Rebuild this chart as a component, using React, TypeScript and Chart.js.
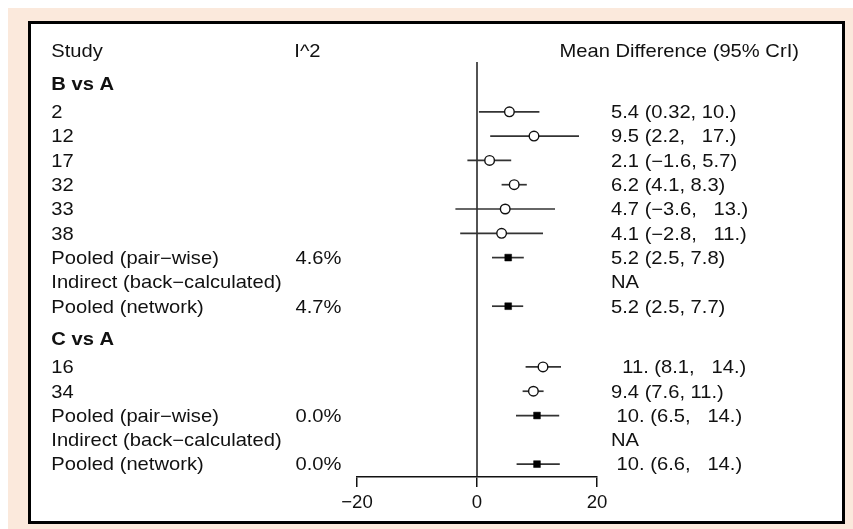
import React, { useEffect, useRef } from "react";
import { Chart, registerables } from "chart.js";

Chart.register(...registerables);

// ---------- data ----------
const groupTitles = ["B vs A", "C vs A"];

const labelsB = ["2", "12", "17", "32", "33", "38", "Pooled (pair\u2212wise)", "Indirect (back\u2212calculated)", "Pooled (network)"];
const kindsB = ["study", "study", "study", "study", "study", "study", "pooled", "none", "pooled"];
const meanB = [5.4, 9.5, 2.1, 6.2, 4.7, 4.1, 5.2, null, 5.2];
const lowerB = [0.32, 2.2, -1.6, 4.1, -3.6, -2.8, 2.5, null, 2.5];
const upperB = [10.4, 17, 5.7, 8.3, 13, 11, 7.8, null, 7.7];
const i2B = ["", "", "", "", "", "", "4.6%", "", "4.7%"];
const ciTextB = [
  "5.4 (0.32, 10.)",
  "9.5 (2.2,   17.)",
  "2.1 (\u22121.6, 5.7)",
  "6.2 (4.1, 8.3)",
  "4.7 (\u22123.6,   13.)",
  "4.1 (\u22122.8,   11.)",
  "5.2 (2.5, 7.8)",
  "NA",
  "5.2 (2.5, 7.7)",
];

const labelsC = ["16", "34", "Pooled (pair\u2212wise)", "Indirect (back\u2212calculated)", "Pooled (network)"];
const kindsC = ["study", "study", "pooled", "none", "pooled"];
const meanC = [11, 9.4, 10, null, 10];
const lowerC = [8.1, 7.6, 6.5, null, 6.6];
const upperC = [14, 11.1, 13.7, null, 13.8];
const i2C = ["", "", "0.0%", "", "0.0%"];
const ciTextC = [
  "  11. (8.1,   14.)",
  "9.4 (7.6, 11.)",
  " 10. (6.5,   14.)",
  "NA",
  " 10. (6.6,   14.)",
];

const headerStudy = "Study";
const headerI2 = "I^2";
const headerEffect = "Mean Difference (95% CrI)";
const xTicks = [-20, 0, 20];

// ---------- layout helpers ----------
const FONT_FAMILY = "'Liberation Sans', Arial, sans-serif";
const FONT_SIZE = 17.7;
const STRETCH = 1.14;
const TEXT_COLOR = "#111111";

type Row = {
  y: number;
  label: string;
  bold?: boolean;
  i2?: string;
  ci?: string;
  kind?: string;
  mean?: number | null;
  lo?: number | null;
  hi?: number | null;
};

function buildRows(): Row[] {
  const rows: Row[] = [];
  const groups = [
    { title: groupTitles[0], labels: labelsB, kinds: kindsB, mean: meanB, lo: lowerB, hi: upperB, i2: i2B, ci: ciTextB },
    { title: groupTitles[1], labels: labelsC, kinds: kindsC, mean: meanC, lo: lowerC, hi: upperC, i2: i2C, ci: ciTextC },
  ];
  let y = 0;
  groups.forEach((g) => {
    y += 1.35;
    rows.push({ y, label: g.title, bold: true });
    y += 1.15;
    g.labels.forEach((lab, i) => {
      rows.push({ y, label: lab, i2: g.i2[i], ci: g.ci[i], kind: g.kinds[i], mean: g.mean[i], lo: g.lo[i], hi: g.hi[i] });
      y += 1;
    });
    y -= 1;
  });
  return rows;
}

function drawStretched(ctx: CanvasRenderingContext2D, text: string, x: number, yMid: number, bold = false) {
  ctx.save();
  ctx.font = `${bold ? "bold " : ""}${FONT_SIZE}px ${FONT_FAMILY}`;
  ctx.fillStyle = TEXT_COLOR;
  ctx.textBaseline = "alphabetic";
  ctx.textAlign = "left";
  ctx.translate(x, yMid + 0.36 * FONT_SIZE);
  ctx.scale(STRETCH, 1);
  ctx.fillText(text, 0, 0);
  ctx.restore();
}

export default function App() {
  const canvasRef = useRef<HTMLCanvasElement | null>(null);

  useEffect(() => {
    const canvas = canvasRef.current;
    if (!canvas) return;
    const rows = buildRows();
    const dataRows = rows.filter((r) => r.mean !== undefined && r.mean !== null);

    const lineDatasets = dataRows.map((r) => ({
      type: "scatter" as const,
      data: [
        { x: r.lo as number, y: r.y },
        { x: r.hi as number, y: r.y },
      ],
      showLine: true,
      borderColor: "#333333",
      borderWidth: 1.7,
      pointRadius: 0,
      pointHoverRadius: 0,
      order: 2,
    }));

    const studyPoints = {
      type: "scatter" as const,
      data: dataRows.filter((r) => r.kind === "study").map((r) => ({ x: r.mean as number, y: r.y })),
      pointStyle: "circle",
      pointRadius: 4.8,
      pointHoverRadius: 4.8,
      backgroundColor: "#ffffff",
      borderColor: "#111111",
      borderWidth: 1.4,
      showLine: false,
      order: 0,
    };
    const pooledPoints = {
      type: "scatter" as const,
      data: dataRows.filter((r) => r.kind === "pooled").map((r) => ({ x: r.mean as number, y: r.y })),
      pointStyle: "rect",
      pointRadius: 4.8,
      pointHoverRadius: 4.8,
      backgroundColor: "#000000",
      borderColor: "#000000",
      borderWidth: 0.5,
      showLine: false,
      order: 0,
    };

    const textPlugin = {
      id: "forestText",
      beforeDatasetsDraw(chart: any) {
        const { ctx, chartArea, scales } = chart;
        const x0 = scales.x.getPixelForValue(0);
        ctx.save();
        ctx.strokeStyle = "#1a1a1a";
        ctx.lineWidth = 1.5;
        ctx.beginPath();
        ctx.moveTo(x0, chartArea.top);
        ctx.lineTo(x0, chartArea.bottom);
        ctx.stroke();
        ctx.restore();
      },
      afterDraw(chart: any) {
        const { ctx, scales } = chart;
        const ys = scales.y;
        const colStudy = 20.3;
        const colI2 = 264.5;
        const colCi = 580;
        const colCiHeader = 528.5;
        const yHead = ys.getPixelForValue(0);
        drawStretched(ctx, headerStudy, colStudy, yHead);
        drawStretched(ctx, headerI2, colI2 - 1.2, yHead);
        drawStretched(ctx, headerEffect, colCiHeader, yHead);
        rows.forEach((r) => {
          const py = ys.getPixelForValue(r.y);
          drawStretched(ctx, r.label, colStudy, py, !!r.bold);
          if (r.i2) drawStretched(ctx, r.i2, colI2, py);
          if (r.ci) drawStretched(ctx, r.ci, colCi, py);
        });
      },
    };

    const chart = new Chart(canvas, {
      type: "scatter",
      data: { datasets: [studyPoints, pooledPoints, ...lineDatasets] as any },
      options: {
        animation: false,
        responsive: false,
        devicePixelRatio: 1,
        layout: { padding: { left: 326, right: 245, top: 38, bottom: 8 } },
        plugins: { legend: { display: false }, tooltip: { enabled: false } },
        events: [],
        scales: {
          x: {
            type: "linear",
            min: -20,
            max: 20,
            afterBuildTicks: (s: any) => {
              s.ticks = xTicks.map((v) => ({ value: v }));
            },
            afterFit: (s: any) => {
              s.height = 36;
            },
            ticks: {
              autoSkip: false,
              maxRotation: 0,
              padding: 4.5,
              color: TEXT_COLOR,
              font: { family: FONT_FAMILY, size: 18.6 },
              callback: (v: any) => (Number(v) < 0 ? "\u2212" + Math.abs(Number(v)) : String(v)),
            },
            grid: {
              drawOnChartArea: false,
              drawTicks: true,
              tickLength: 10,
              tickColor: "#111111",
              tickWidth: 1.5,
              color: "#111111",
              lineWidth: 1.5,
            },
            border: { display: true, color: "#111111", width: 1.5 },
          },
          y: {
            type: "linear",
            display: false,
            reverse: true,
            min: 0.45,
            max: 17.53,
          },
        },
      },
      plugins: [textPlugin],
    });

    return () => chart.destroy();
  }, []);

  return (
    <div
      style={{
        position: "fixed",
        top: 8,
        left: 8,
        right: 0,
        bottom: 0,
        background: "#fbe9dc",
      }}
    >
      <div
        style={{
          position: "absolute",
          left: 20,
          top: 13,
          width: 817,
          height: 503,
          boxSizing: "border-box",
          border: "3px solid #000",
          background: "#fff",
        }}
      >
        <canvas ref={canvasRef} width={811} height={497} style={{ display: "block", width: 811, height: 497 }} />
      </div>
    </div>
  );
}
